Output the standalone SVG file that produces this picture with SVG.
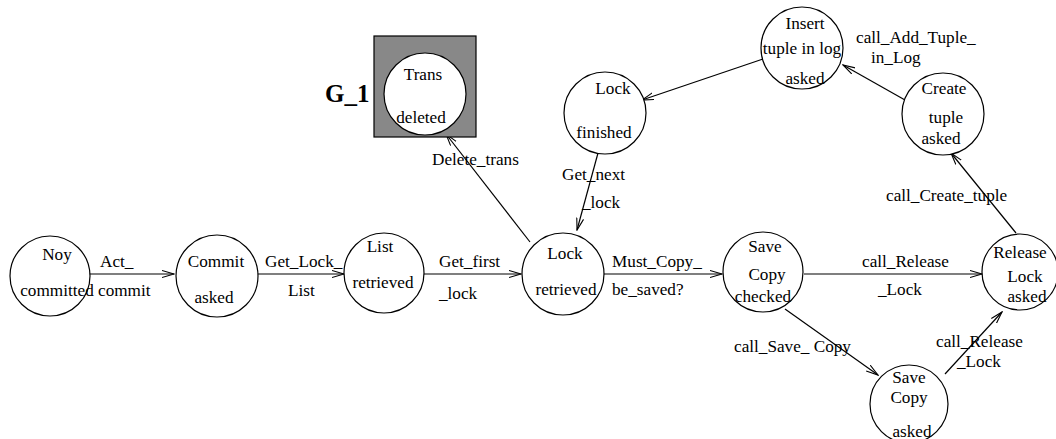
<svg xmlns="http://www.w3.org/2000/svg" width="1056" height="439" viewBox="0 0 1056 439">
<style>
  .n { fill: #fff; stroke: #000; stroke-width: 1.2; }
  .t { font-family: "Liberation Serif", "Times New Roman", serif; font-size: 17.2px; fill: #000; }
  .c { text-anchor: middle; }
  .e { stroke: #000; stroke-width: 1.2; fill: none; marker-end: url(#arr); }
  .g { font-family: "Liberation Serif", "Times New Roman", serif; font-size: 25px; font-weight: bold; fill: #000; }
</style>
<defs>
  <marker id="arr" markerUnits="userSpaceOnUse" markerWidth="13" markerHeight="10" refX="12" refY="4" orient="auto">
    <path d="M0,0.5 L12,4 L0,7.5" fill="none" stroke="#000" stroke-width="1.1"/>
  </marker>
</defs>
<rect width="1056" height="439" fill="#fff"/>

<g id="connectors">
  <line class="e" x1="86" y1="274" x2="174" y2="274"/>
  <line class="e" x1="258" y1="274" x2="344" y2="274"/>
  <line class="e" x1="424" y1="274" x2="521" y2="274"/>
  <line class="e" x1="530" y1="242" x2="446" y2="134"/>
  <line class="e" x1="603" y1="274" x2="722" y2="274"/>
  <line class="e" x1="598" y1="153" x2="577" y2="230"/>
  <line class="e" x1="763" y1="59" x2="642" y2="100"/>
  <line class="e" x1="905" y1="100" x2="843" y2="65"/>
  <line class="e" x1="1016" y1="233" x2="951" y2="153"/>
  <line class="e" x1="804" y1="274" x2="982" y2="274"/>
  <line class="e" x1="785" y1="309" x2="878" y2="375"/>
  <line class="e" x1="945" y1="374" x2="1002" y2="312"/>
  <g class="t">
    <text x="100" y="267">Act_</text>
    <text x="98" y="296">commit</text>
    <text x="265" y="267">Get_Lock_</text>
    <text x="288" y="296">List</text>
    <text x="439" y="267">Get_first</text>
    <text x="439" y="299">_lock</text>
    <text x="432" y="165">Delete_trans</text>
    <text x="612" y="267">Must_Copy_</text>
    <text x="612" y="295">be_saved?</text>
    <text x="562" y="180">Get_next</text>
    <text x="582" y="208">_lock</text>
    <text x="856" y="43">call_Add_Tuple_</text>
    <text x="871" y="63">in_Log</text>
    <text x="886" y="201">call_Create_tuple</text>
    <text x="862" y="267">call_Release</text>
    <text x="878" y="295">_Lock</text>
    <text x="734" y="352">call_Save_ Copy</text>
    <text x="936" y="347">call_Release</text>
    <text x="957" y="367">_Lock</text>
  </g>
</g>

<g id="noy_committed">
  <circle class="n" cx="50" cy="276" r="40"/>
  <text class="t c" x="57" y="260">Noy</text>
  <text class="t c" x="57" y="296">committed</text>
</g>
<g id="commit_asked">
  <circle class="n" cx="217" cy="276" r="41"/>
  <text class="t c" x="216" y="267">Commit</text>
  <text class="t c" x="214" y="303">asked</text>
</g>
<g id="list_retrieved">
  <circle class="n" cx="384" cy="273" r="40"/>
  <text class="t c" x="380" y="252">List</text>
  <text class="t c" x="383" y="288">retrieved</text>
</g>
<g id="lock_retrieved">
  <circle class="n" cx="563" cy="274" r="41"/>
  <text class="t c" x="565" y="259">Lock</text>
  <text class="t c" x="566" y="295">retrieved</text>
</g>
<g id="save_copy_checked">
  <circle class="n" cx="763" cy="272" r="40"/>
  <text class="t c" x="765" y="252">Save</text>
  <text class="t c" x="767" y="280">Copy</text>
  <text class="t c" x="763" y="302">checked</text>
</g>
<g id="release_lock_asked">
  <circle class="n" cx="1020" cy="272" r="38"/>
  <text class="t c" x="1020" y="258">Release</text>
  <text class="t c" x="1025" y="282">Lock</text>
  <text class="t c" x="1027" y="302">asked</text>
</g>
<g id="save_copy_asked">
  <circle class="n" cx="909" cy="404" r="39"/>
  <text class="t c" x="909" y="383">Save</text>
  <text class="t c" x="909" y="403">Copy</text>
  <text class="t c" x="912" y="437">asked</text>
</g>
<g id="create_tuple_asked">
  <circle class="n" cx="943" cy="114" r="41"/>
  <text class="t c" x="944" y="94">Create</text>
  <text class="t c" x="946" y="123">tuple</text>
  <text class="t c" x="941" y="144">asked</text>
</g>
<g id="insert_tuple_asked">
  <circle class="n" cx="802" cy="48" r="41"/>
  <text class="t c" x="805" y="29">Insert</text>
  <text class="t c" x="802" y="54">tuple in log</text>
  <text class="t c" x="805" y="84">asked</text>
</g>
<g id="lock_finished">
  <circle class="n" cx="605" cy="113" r="41"/>
  <text class="t c" x="613" y="94">Lock</text>
  <text class="t c" x="604" y="138">finished</text>
</g>
<g id="trans_deleted">
  <rect x="374" y="36" width="102" height="101" fill="#888" stroke="#000" stroke-width="1.2"/>
  <circle class="n" cx="425" cy="94" r="41"/>
  <text class="t c" x="423" y="80">Trans</text>
  <text class="t c" x="421" y="123">deleted</text>
  <text class="g" x="325" y="102">G_1</text>
</g>
</svg>
